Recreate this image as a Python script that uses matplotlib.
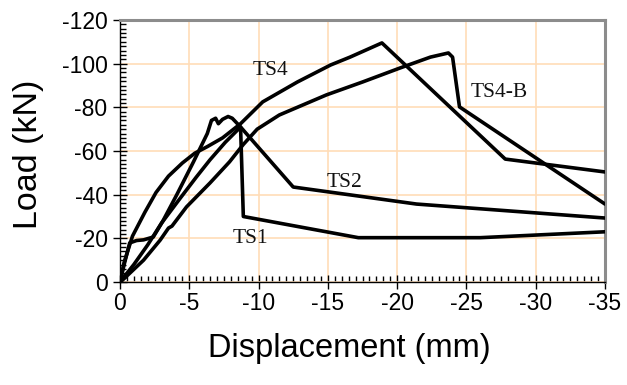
import matplotlib
matplotlib.use("Agg")
import matplotlib.pyplot as plt
from matplotlib.ticker import MultipleLocator

# ---- data (displacement mm, load kN) ----
ts1_x = [0, -0.5, -1.0, -2.0, -3.0, -4.3, -5.5, -6.5, -7.6, -8.7, -8.9, -17.2, -26.0, -35.0]
ts1_y = [0, -4, -8, -17, -27, -38, -48, -56, -64, -71, -30, -20.3, -20.3, -23.0]

ts2_x = [0, -0.3, -0.7, -1.2, -1.7, -2.4, -3.1, -4.1, -5.3, -6.3, -6.6, -6.9, -7.1, -7.4, -7.8, -8.1, -8.7, -12.5, -21.4, -35.0]
ts2_y = [0, -8, -17.9, -19.0, -19.3, -20.6, -28, -40, -55, -68, -74.0, -75.0, -72.5, -74.5, -75.8, -75.0, -71, -43.5, -35.7, -29.3]

ts4_x = [0, -0.3, -0.9, -1.8, -2.6, -3.5, -4.5, -5.4, -6.3, -7.4, -8.7, -10.3, -12.8, -15.2, -16.6, -18.9, -27.8, -35.0]
ts4_y = [0, -9, -21, -32, -41, -48.5, -54.5, -59, -62, -66, -72.5, -82.5, -91.6, -99.4, -103, -109.5, -56.3, -50.4]

ts4b_x = [0, -0.2, -1.7, -2.9, -3.5, -3.75, -4.8, -6.5, -7.9, -8.9, -9.9, -11.5, -14.9, -17.5, -20.2, -22.4, -23.7, -24.0, -24.5, -35.0]
ts4b_y = [0, -1, -10, -19.2, -24.7, -25.6, -34.4, -45.4, -55, -63, -70, -76.5, -85.7, -91.6, -98, -103, -104.9, -103, -80.2, -35.7]

labels = ["TS1", "TS2", "TS4", "TS4-B"]
label_x = [-8.1, -14.9, -9.6, -25.3]
label_y = [-19.7, -45.8, -97.0, -86.6]

x_ticks = [0, -5, -10, -15, -20, -25, -30, -35]
y_ticks = [0, -20, -40, -60, -80, -100, -120]

# ---- figure ----
fig = plt.figure(figsize=(6.27, 3.85), dpi=100)
ax = fig.add_axes([120/627, (385-282)/385, 485/627, 262/385])

for xs, ys in [(ts1_x, ts1_y), (ts2_x, ts2_y), (ts4_x, ts4_y), (ts4b_x, ts4b_y)]:
    ax.plot(xs, ys, color="black", lw=2.6, solid_joinstyle="round",
            solid_capstyle="round", zorder=3)

ax.set_xlim(0, -35)
ax.set_ylim(0, -120)
ax.set_xticks(x_ticks)
ax.set_yticks(y_ticks)
ax.set_xticklabels([str(v) for v in x_ticks])
ax.set_yticklabels([str(v) for v in y_ticks])
ax.xaxis.set_minor_locator(MultipleLocator(0.5))
ax.yaxis.set_minor_locator(MultipleLocator(2))

ax.grid(True, which="major", color="#FFDDB8", lw=1.2, zorder=0)
ax.set_axisbelow(True)

sans = ["Liberation Sans", "DejaVu Sans"]
serif = ["Liberation Serif", "DejaVu Serif"]

ax.tick_params(axis="both", which="major", direction="inout", length=10, width=1,
               labelsize=16.5, color="black")
ax.tick_params(axis="both", which="minor", direction="in", length=4, width=1, color="black")
ax.tick_params(axis="x", which="major", pad=2)
ax.tick_params(axis="y", which="major", pad=4)
for lab in ax.get_xticklabels() + ax.get_yticklabels():
    lab.set_fontfamily(sans)

ax.set_xlabel("Displacement (mm)", fontsize=23.5, family=sans)
ax.set_ylabel("Load (kN)", fontsize=24.5, family=sans)
ax.xaxis.set_label_coords((349 - 120) / 485, -(349 - 282) / 262)
ax.yaxis.set_label_coords(-(120 - 29) / 485, (282 - 154) / 262)
ax.xaxis.label.set_va("center")
ax.yaxis.label.set_va("center")

for s in ["top", "right"]:
    ax.spines[s].set_color("#8C8C8C")
    ax.spines[s].set_linewidth(2.2)
for s in ["left", "bottom"]:
    ax.spines[s].set_color("black")
    ax.spines[s].set_linewidth(1.0)

for t, lx, ly in zip(labels, label_x, label_y):
    ax.text(lx, ly, t, fontsize=15.5, family=serif, color="#111111",
            ha="left", va="center", zorder=2)

fig.savefig("out.png", dpi=100)
